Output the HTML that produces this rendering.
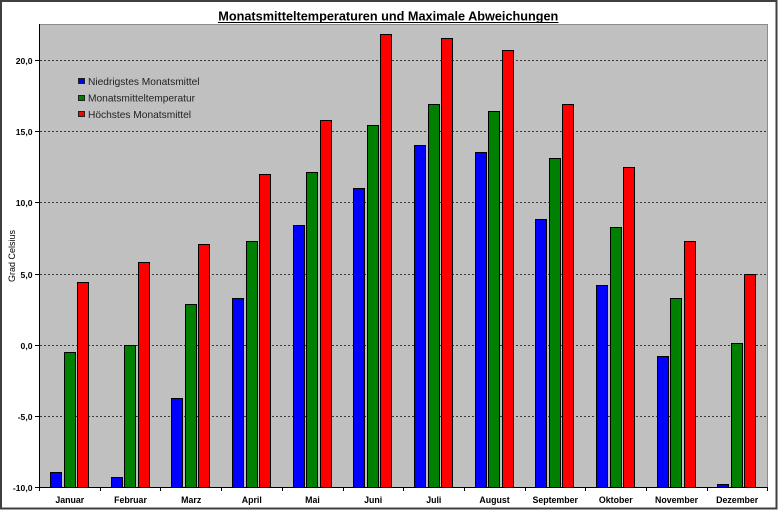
<!DOCTYPE html>
<html>
<head>
<meta charset="utf-8">
<style>
html,body{margin:0;padding:0;background:#fff;}
svg{display:block;}
text{font-family:"Liberation Sans",Arial,sans-serif;}
</style>
</head>
<body>
<svg width="778" height="512" viewBox="0 0 778 512" xmlns="http://www.w3.org/2000/svg">
<rect x="0" y="0" width="778" height="512" fill="#fff"/>
<rect x="1" y="1" width="775.5" height="507.5" fill="#fff" stroke="#404040" stroke-width="2"/>

<!-- title -->
<text x="388.3" y="20.5" font-size="12.7" font-weight="bold" text-anchor="middle" fill="#000">Monatsmitteltemperaturen und Maximale Abweichungen</text>
<line x1="218" y1="22.5" x2="558.5" y2="22.5" stroke="#000" stroke-width="1"/>

<!-- plot area -->
<rect x="39.5" y="24.5" width="728" height="463" fill="#C0C0C0" stroke="#8c8c8c" stroke-width="1"/>

<!-- gridlines -->
<g stroke="#3a3a3a" stroke-width="1" stroke-dasharray="2,2">
<line x1="40" y1="60.5" x2="767" y2="60.5"/>
<line x1="40" y1="131.5" x2="767" y2="131.5"/>
<line x1="40" y1="202.5" x2="767" y2="202.5"/>
<line x1="40" y1="274.5" x2="767" y2="274.5"/>
<line x1="40" y1="345.5" x2="767" y2="345.5"/>
<line x1="40" y1="416.5" x2="767" y2="416.5"/>
</g>

<!-- legend -->
<rect x="78.5" y="78.5" width="6" height="5" fill="#0000FF" stroke="#202020" stroke-width="1"/>
<rect x="78.5" y="95.5" width="6" height="5" fill="#008000" stroke="#202020" stroke-width="1"/>
<rect x="78.5" y="111.5" width="6" height="5" fill="#FF0000" stroke="#202020" stroke-width="1"/>
<g font-size="10.2" fill="#222">
<text x="88" y="85">Niedrigstes Monatsmittel</text>
<text x="88" y="101.5">Monatsmitteltemperatur</text>
<text x="88" y="118">Höchstes Monatsmittel</text>
</g>

<!-- bars -->
<g stroke="#000" stroke-width="1">
<g fill="#0000FF">
<rect x="50.5" y="472.5" width="11" height="15"/>
<rect x="111.5" y="477.5" width="11" height="10"/>
<rect x="171.5" y="398.5" width="11" height="89"/>
<rect x="232.5" y="298.5" width="11" height="189"/>
<rect x="293.5" y="225.5" width="11" height="262"/>
<rect x="353.5" y="188.5" width="11" height="299"/>
<rect x="414.5" y="145.5" width="11" height="342"/>
<rect x="475.5" y="152.5" width="11" height="335"/>
<rect x="535.5" y="219.5" width="11" height="268"/>
<rect x="596.5" y="285.5" width="11" height="202"/>
<rect x="657.5" y="356.5" width="11" height="131"/>
<rect x="717.5" y="484.5" width="11" height="3"/>
</g>
<g fill="#008000">
<rect x="64.5" y="352.5" width="11" height="135"/>
<rect x="124.5" y="345.5" width="11" height="142"/>
<rect x="185.5" y="304.5" width="11" height="183"/>
<rect x="246.5" y="241.5" width="11" height="246"/>
<rect x="306.5" y="172.5" width="11" height="315"/>
<rect x="367.5" y="125.5" width="11" height="362"/>
<rect x="428.5" y="104.5" width="11" height="383"/>
<rect x="488.5" y="111.5" width="11" height="376"/>
<rect x="549.5" y="158.5" width="11" height="329"/>
<rect x="610.5" y="227.5" width="11" height="260"/>
<rect x="670.5" y="298.5" width="11" height="189"/>
<rect x="731.5" y="343.5" width="11" height="144"/>
</g>
<g fill="#FF0000">
<rect x="77.5" y="282.5" width="11" height="205"/>
<rect x="138.5" y="262.5" width="11" height="225"/>
<rect x="198.5" y="244.5" width="11" height="243"/>
<rect x="259.5" y="174.5" width="11" height="313"/>
<rect x="320.5" y="120.5" width="11" height="367"/>
<rect x="380.5" y="34.5" width="11" height="453"/>
<rect x="441.5" y="38.5" width="11" height="449"/>
<rect x="502.5" y="50.5" width="11" height="437"/>
<rect x="562.5" y="104.5" width="11" height="383"/>
<rect x="623.5" y="167.5" width="11" height="320"/>
<rect x="684.5" y="241.5" width="11" height="246"/>
<rect x="744.5" y="274.5" width="11" height="213"/>
</g>
</g>

<!-- axes -->
<g stroke="#000" stroke-width="1">
<line x1="39.5" y1="24" x2="39.5" y2="488"/>
<line x1="39.5" y1="487.5" x2="768" y2="487.5"/>
<!-- y ticks -->
<line x1="35" y1="60.5" x2="39.5" y2="60.5"/>
<line x1="35" y1="131.5" x2="39.5" y2="131.5"/>
<line x1="35" y1="202.5" x2="39.5" y2="202.5"/>
<line x1="35" y1="274.5" x2="39.5" y2="274.5"/>
<line x1="35" y1="345.5" x2="39.5" y2="345.5"/>
<line x1="35" y1="416.5" x2="39.5" y2="416.5"/>
<line x1="35" y1="487.5" x2="39.5" y2="487.5"/>
<!-- x ticks -->
<line x1="39.5" y1="487.5" x2="39.5" y2="491"/>
<line x1="100.5" y1="487.5" x2="100.5" y2="491"/>
<line x1="160.5" y1="487.5" x2="160.5" y2="491"/>
<line x1="221.5" y1="487.5" x2="221.5" y2="491"/>
<line x1="282.5" y1="487.5" x2="282.5" y2="491"/>
<line x1="343.5" y1="487.5" x2="343.5" y2="491"/>
<line x1="403.5" y1="487.5" x2="403.5" y2="491"/>
<line x1="464.5" y1="487.5" x2="464.5" y2="491"/>
<line x1="525.5" y1="487.5" x2="525.5" y2="491"/>
<line x1="585.5" y1="487.5" x2="585.5" y2="491"/>
<line x1="646.5" y1="487.5" x2="646.5" y2="491"/>
<line x1="707.5" y1="487.5" x2="707.5" y2="491"/>
<line x1="767.5" y1="487.5" x2="767.5" y2="491"/>
</g>

<!-- y labels -->
<g font-size="8.6" font-weight="bold" text-anchor="end" fill="#000">
<text x="32.5" y="64">20,0</text>
<text x="32.5" y="135">15,0</text>
<text x="32.5" y="206">10,0</text>
<text x="32.5" y="278">5,0</text>
<text x="32.5" y="349">0,0</text>
<text x="32.5" y="420">-5,0</text>
<text x="32.5" y="491">-10,0</text>
</g>

<!-- y axis title -->
<text x="0" y="0" font-size="9" fill="#000" text-anchor="middle" transform="translate(15,256) rotate(-90)">Grad Celsius</text>

<!-- x labels -->
<g font-size="8.8" font-weight="bold" text-anchor="middle" fill="#000">
<text x="69.8" y="503">Januar</text>
<text x="130.5" y="503">Februar</text>
<text x="191.2" y="503">Marz</text>
<text x="251.8" y="503">April</text>
<text x="312.5" y="503">Mai</text>
<text x="373.2" y="503">Juni</text>
<text x="433.8" y="503">Juli</text>
<text x="494.5" y="503">August</text>
<text x="555.2" y="503">September</text>
<text x="615.8" y="503">Oktober</text>
<text x="676.5" y="503">November</text>
<text x="737.2" y="503">Dezember</text>
</g>
</svg>
</body>
</html>
